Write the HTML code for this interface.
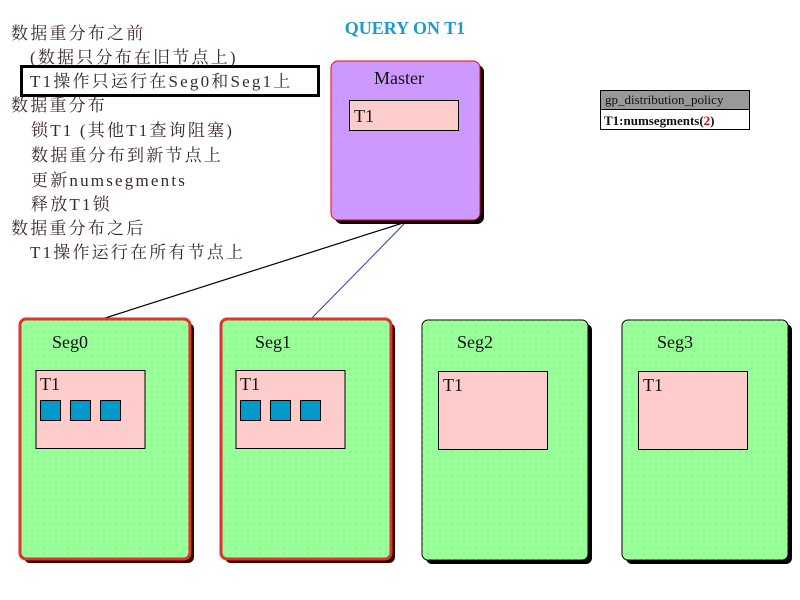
<!DOCTYPE html>
<html><head><meta charset="utf-8"><style>
html,body{margin:0;padding:0;background:#fff;width:800px;height:600px;overflow:hidden}
svg text{font-family:"Liberation Serif","Noto Serif CJK SC","Noto Sans CJK SC",serif}
</style></head><body>
<svg width="800" height="600" xmlns="http://www.w3.org/2000/svg">
<defs>
<pattern id="dp" width="6" height="6" patternUnits="userSpaceOnUse"><rect width="6" height="6" fill="none"/><circle cx="2" cy="2" r="0.6" fill="#e070e0" opacity="0.6"/></pattern>
<pattern id="dg" width="6" height="6" patternUnits="userSpaceOnUse"><circle cx="2" cy="2" r="0.6" fill="#60c060" opacity="0.6"/></pattern>
</defs>
<g fill="#3a2a2a" font-size="17" letter-spacing="2.2">
<text x="11" y="39">数据重分布之前</text>
<text x="30" y="63">(数据只分布在旧节点上)</text>
<text x="30" y="87">T1操作只运行在Seg0和Seg1上</text>
<text x="11" y="111">数据重分布</text>
<text x="31" y="136">锁T1 (其他T1查询阻塞)</text>
<text x="31" y="161">数据重分布到新节点上</text>
<text x="31" y="186">更新numsegments</text>
<text x="31" y="210">释放T1锁</text>
<text x="11" y="234">数据重分布之后</text>
<text x="30" y="258">T1操作运行在所有节点上</text>
</g>
<rect x="21.5" y="66.5" width="297" height="29" fill="none" stroke="#000" stroke-width="3"/>
<text x="405" y="34" text-anchor="middle" font-size="18" font-weight="bold" fill="#1a9ad0">QUERY ON T1</text>
<line x1="406" y1="222" x2="102" y2="319" stroke="#000" stroke-width="1.2"/>
<line x1="406" y1="222" x2="311" y2="319" stroke="#5030a0" stroke-width="1"/>
<!-- master -->
<rect x="335" y="65" width="149" height="159" rx="7" fill="#000"/>
<rect x="331" y="61" width="149" height="159" rx="7" fill="#cc99ff" stroke="#ff0000" stroke-width="1"/>
<rect x="331" y="61" width="149" height="159" rx="7" fill="url(#dp)"/>
<text x="399" y="84" text-anchor="middle" font-size="18" fill="#111">Master</text>
<rect x="349.5" y="100.5" width="109" height="30" fill="#ffcccc" stroke="#000"/>
<text x="354" y="122" font-size="18" fill="#111">T1</text>
<!-- policy -->
<rect x="600.5" y="90.5" width="149" height="39" fill="#fff" stroke="#000"/>
<rect x="601" y="91" width="148" height="18" fill="#999"/>
<line x1="600" y1="109.5" x2="750" y2="109.5" stroke="#000"/>
<text x="605" y="104" font-size="13" fill="#111">gp_distribution_policy</text>
<text x="604" y="125" font-size="13" font-weight="bold" fill="#111">T1:numsegments(<tspan fill="#e00000">2</tspan>)</text>
<!-- segs -->
<g>
<rect x="24" y="323" width="170" height="240" rx="6" fill="#300"/>
<rect x="20" y="319" width="170" height="240" rx="6" fill="#99ff99" stroke="#e03030" stroke-width="3"/>
<rect x="20" y="319" width="170" height="240" rx="6" fill="url(#dg)"/>
<text x="52" y="348" font-size="18" fill="#111">Seg0</text>
<rect x="36" y="370.5" width="109" height="78" fill="#ffcccc" stroke="#000"/>
<text x="40" y="390" font-size="18" fill="#111">T1</text>
<rect x="40.5" y="400.5" width="20" height="20" fill="#0099cc" stroke="#000"/>
<rect x="70.5" y="400.5" width="20" height="20" fill="#0099cc" stroke="#000"/>
<rect x="100.5" y="400.5" width="20" height="20" fill="#0099cc" stroke="#000"/>
</g>
<g>
<rect x="225" y="323" width="170" height="240" rx="6" fill="#300"/>
<rect x="221" y="319" width="170" height="240" rx="6" fill="#99ff99" stroke="#e03030" stroke-width="3"/>
<rect x="221" y="319" width="170" height="240" rx="6" fill="url(#dg)"/>
<text x="255" y="348" font-size="18" fill="#111">Seg1</text>
<rect x="236" y="370.5" width="109" height="78" fill="#ffcccc" stroke="#000"/>
<text x="240" y="390" font-size="18" fill="#111">T1</text>
<rect x="240.5" y="400.5" width="20" height="20" fill="#0099cc" stroke="#000"/>
<rect x="270.5" y="400.5" width="20" height="20" fill="#0099cc" stroke="#000"/>
<rect x="300.5" y="400.5" width="20" height="20" fill="#0099cc" stroke="#000"/>
</g>
<g>
<rect x="426" y="324" width="166" height="240" rx="6" fill="#000"/>
<rect x="422" y="320" width="166" height="240" rx="6" fill="#99ff99" stroke="#000" stroke-width="1"/>
<rect x="422" y="320" width="166" height="240" rx="6" fill="url(#dg)"/>
<text x="457" y="348" font-size="18" fill="#111">Seg2</text>
<rect x="438.5" y="371.5" width="109" height="78" fill="#ffcccc" stroke="#000"/>
<text x="443" y="391" font-size="18" fill="#111">T1</text>
</g>
<g>
<rect x="626" y="324" width="166" height="240" rx="6" fill="#000"/>
<rect x="622" y="320" width="166" height="240" rx="6" fill="#99ff99" stroke="#000" stroke-width="1"/>
<rect x="622" y="320" width="166" height="240" rx="6" fill="url(#dg)"/>
<text x="657" y="348" font-size="18" fill="#111">Seg3</text>
<rect x="638.5" y="371.5" width="109" height="78" fill="#ffcccc" stroke="#000"/>
<text x="643" y="391" font-size="18" fill="#111">T1</text>
</g>
</svg>
</body></html>
